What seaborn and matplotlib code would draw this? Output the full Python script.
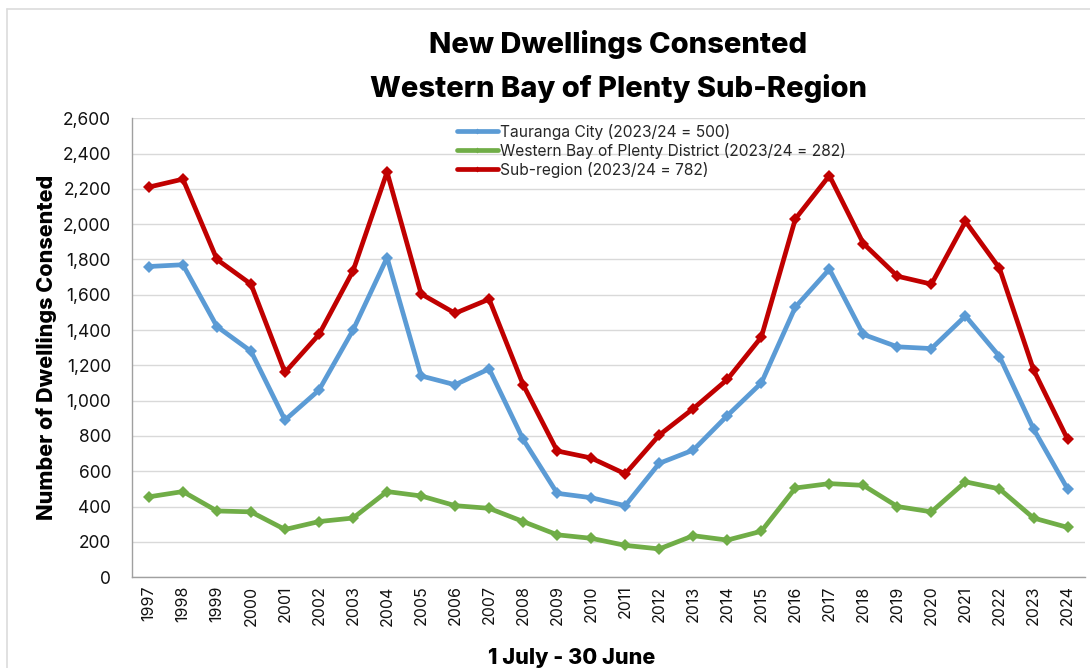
import matplotlib
matplotlib.use("Agg")
import matplotlib.pyplot as plt
import seaborn as sns
import numpy as np
import pandas as pd
from matplotlib.ticker import FuncFormatter, FixedLocator

years = [str(y) for y in range(1997, 2025)]

tauranga = [1760, 1770, 1420, 1280, 890, 1060, 1400, 1810, 1140, 1090, 1180, 780, 475, 450,
            405, 645, 720, 915, 1100, 1530, 1745, 1375, 1305, 1295, 1480, 1250, 840, 500]
wbop = [455, 485, 375, 370, 270, 315, 335, 485, 460, 405, 390, 315, 240, 220,
        180, 160, 235, 210, 260, 505, 530, 520, 400, 370, 540, 500, 335, 282]
subregion = [2210, 2255, 1800, 1660, 1160, 1375, 1735, 2295, 1605, 1495, 1575, 1090, 715, 675,
             585, 805, 955, 1120, 1360, 2030, 2275, 1890, 1705, 1660, 2015, 1750, 1175, 782]

labels = ["Tauranga City (2023/24 = 500)",
          "Western Bay of Plenty District (2023/24 = 282)",
          "Sub-region (2023/24 = 782)"]
colors = ["#5B9BD5", "#70AD47", "#C00000"]

df = pd.concat([
    pd.DataFrame({"year": years, "value": tauranga, "series": labels[0]}),
    pd.DataFrame({"year": years, "value": wbop, "series": labels[1]}),
    pd.DataFrame({"year": years, "value": subregion, "series": labels[2]}),
])

sns.set_style("white")
plt.rcParams["font.family"] = ["Inter", "DejaVu Sans"]

fig = plt.figure(figsize=(10.9, 6.68), dpi=100)
ax = fig.add_axes([0.121, 0.136, 0.874, 0.687])

# light page frame (top and left edges)
fig.add_artist(plt.Line2D([0.0065, 1.0], [0.9865, 0.9865], color="#DCDCDC", linewidth=1.2))
fig.add_artist(plt.Line2D([0.0065, 0.0065], [0.0, 0.9865], color="#DCDCDC", linewidth=1.2))

sns.lineplot(data=df, x="year", y="value", hue="series", style="series",
             palette=colors, markers=["D", "D", "D"], dashes=False,
             linewidth=3.4, markersize=6.5, markeredgewidth=0, ax=ax, legend=False)

ax.set_xlim(-0.5, len(years) - 0.5)
ax.set_ylim(0, 2600)
ax.set_yticks(np.arange(0, 2601, 200))
ax.yaxis.set_major_formatter(FuncFormatter(lambda v, p: f"{int(v):,}"))
ax.yaxis.grid(True, color="#D9D9D9", linewidth=1)
ax.set_axisbelow(True)

ax.set_xticks(range(len(years)))
ax.set_xticklabels(years, rotation=90, fontsize=11.5, color="#111111")
ax.xaxis.set_minor_locator(FixedLocator(np.arange(-0.5, len(years), 1)))
ax.tick_params(axis="x", which="major", length=0, pad=6)
ax.tick_params(axis="x", which="minor", length=6, color="#A0A0A0", direction="out")
ax.tick_params(axis="y", length=5, color="#A0A0A0", direction="out", labelsize=12.5,
               labelcolor="#111111", pad=10)

for s in ["top", "right"]:
    ax.spines[s].set_visible(False)
for s in ["left", "bottom"]:
    ax.spines[s].set_color("#A0A0A0")
    ax.spines[s].set_linewidth(1)

ax.set_ylabel("Number of Dwellings Consented", fontsize=15.5, fontweight="heavy",
              labelpad=4, color="black")
ax.set_xlabel("")
fig.text(0.524, 0.0, "1 July - 30 June", ha="center", va="bottom",
         fontsize=15.5, fontweight="heavy", color="black")

fig.text(0.567, 0.933, "New Dwellings Consented", ha="center", va="center",
         fontsize=21, fontweight="heavy", color="black")
fig.text(0.567, 0.868, "Western Bay of Plenty Sub-Region", ha="center", va="center",
         fontsize=21, fontweight="heavy", color="black")

handles = [plt.Line2D([], [], color=c, linewidth=3.4, marker="D", markersize=3,
                      markeredgewidth=0) for c in colors]
ax.legend(handles, labels, loc="upper left", bbox_to_anchor=(0.33, 1.012),
          frameon=False, fontsize=11.2, handlelength=2.6, handletextpad=0.15,
          labelspacing=0.2, borderaxespad=0.3)

fig.savefig("out.png", dpi=100)
